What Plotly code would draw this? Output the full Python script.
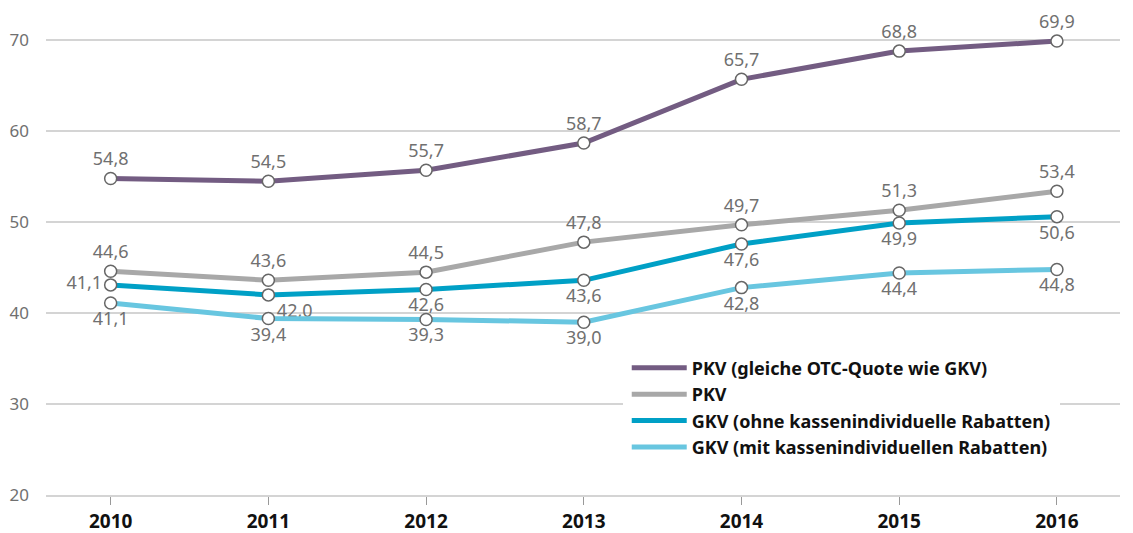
import plotly.graph_objects as go

years = [2010, 2011, 2012, 2013, 2014, 2015, 2016]
tick_labels = ["2010", "2011", "2012", "2013", "2014", "2015", "2016"]

names = [
    "PKV (gleiche OTC-Quote wie GKV)",
    "PKV",
    "GKV (ohne kassenindividuelle Rabatten)",
    "GKV (mit kassenindividuellen Rabatten)",
]
pkv_otc = [54.8, 54.5, 55.7, 58.7, 65.7, 68.8, 69.9]
pkv = [44.6, 43.6, 44.5, 47.8, 49.7, 51.3, 53.4]
gkv_ohne = [43.1, 42.0, 42.6, 43.6, 47.6, 49.9, 50.6]
gkv_mit = [41.1, 39.4, 39.3, 39.0, 42.8, 44.4, 44.8]

# labels as printed in the source (first GKV-ohne label reads "41,1")
pkv_otc_labels = ["54,8", "54,5", "55,7", "58,7", "65,7", "68,8", "69,9"]
pkv_labels = ["44,6", "43,6", "44,5", "47,8", "49,7", "51,3", "53,4"]
gkv_ohne_labels = ["41,1", "42,0", "42,6", "43,6", "47,6", "49,9", "50,6"]
gkv_mit_labels = ["41,1", "39,4", "39,3", "39,0", "42,8", "44,4", "44,8"]

colors = ["#735c82", "#a8a8a8", "#00a0c6", "#68c6e0"]
FONT = "Noto Sans"

series = [
    (pkv_otc, pkv_otc_labels, ["top center"] * 7),
    (pkv, pkv_labels, ["top center"] * 7),
    (gkv_ohne, gkv_ohne_labels, ["middle left", "bottom right"] + ["bottom center"] * 5),
    (gkv_mit, gkv_mit_labels, ["bottom center"] * 7),
]

fig = go.Figure()
for (vals, labs, pos), name, col in zip(series, names, colors):
    fig.add_trace(go.Scatter(
        x=years, y=vals, name=name, mode="lines+markers+text",
        text=labs, textposition=pos,
        textfont=dict(family=FONT, size=18, color="#707070"),
        line=dict(color=col, width=5),
        marker=dict(size=12, color="white", line=dict(color="#666666", width=1.5)),
        cliponaxis=False, showlegend=False,
    ))

# legend entries: line only
for name, col in zip(names, colors):
    fig.add_trace(go.Scatter(
        x=[None], y=[None], name=name, mode="lines",
        line=dict(color=col, width=5), legendgroup=name,
    ))

fig.update_layout(
    width=1125, height=525,
    margin=dict(l=38, r=13, t=14, b=38, autoexpand=False),
    paper_bgcolor="white", plot_bgcolor="white",
    font=dict(family=FONT, size=16, color="#707070"),
    showlegend=True,
    legend=dict(
        x=0.537, y=0.316, xanchor="left", yanchor="top",
        bgcolor="white", bordercolor="white", borderwidth=4,
        traceorder="normal",
        font=dict(family=FONT, size=18, color="#111111", weight="bold"),
        tracegroupgap=8, itemwidth=55,
    ),
    xaxis=dict(
        range=[2009.59, 2016.4], automargin=False,
        tickmode="array", tickvals=years, ticktext=tick_labels,
        showgrid=False, zeroline=False,
        showline=True, linecolor="#d4d4d4", linewidth=2,
        ticks="outside", ticklen=8, tickcolor="#999999", tickwidth=1,
        tickfont=dict(family=FONT, size=19, color="#111111", weight="bold"),
    ),
    yaxis=dict(
        range=[20, 72], automargin=False,
        tickvals=[20, 30, 40, 50, 60, 70],
        showgrid=True, gridcolor="#d4d4d4", gridwidth=2,
        zeroline=False, showline=False,
        ticks="", ticklabelstandoff=16,
        tickfont=dict(family=FONT, size=17, color="#707070"),
    ),
)

fig.write_html("out.html")
